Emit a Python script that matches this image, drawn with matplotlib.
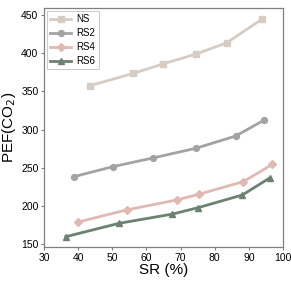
import matplotlib.pyplot as plt

plt.rcParams['font.family'] = ['Liberation Sans', 'DejaVu Sans']

# series
ns_x = [43.5, 56.2, 64.9, 74.4, 83.5, 93.9]
ns_y = [357.5, 373.5, 386.0, 398.5, 413.5, 444.5]
rs2_x = [38.8, 50.1, 62.0, 74.4, 86.1, 94.5]
rs2_y = [238.5, 251.5, 263.0, 275.5, 291.5, 312.5]
rs4_x = [39.9, 54.2, 68.9, 75.4, 88.4, 96.9]
rs4_y = [179.0, 195.0, 208.0, 215.5, 232.0, 254.5]
rs6_x = [36.4, 52.0, 67.6, 75.2, 88.1, 96.2]
rs6_y = [160.0, 177.5, 189.5, 198.0, 214.5, 237.0]

series = [
    ("NS", ns_x, ns_y, "#d6ccc4", "s"),
    ("RS2", rs2_x, rs2_y, "#a3a3a3", "o"),
    ("RS4", rs4_x, rs4_y, "#e0bab2", "D"),
    ("RS6", rs6_x, rs6_y, "#6c8271", "^"),
]

fig = plt.figure(figsize=(2.91, 2.91), dpi=100)
ax = fig.add_axes([44 / 291, 44 / 291, 239 / 291, 239 / 291])

for name, xs, ys, c, m in series:
    ax.plot(xs, ys, color=c, marker=m, lw=2.0, ms=4.2, label=name)

ax.set_xlim(30, 100)
ax.set_ylim(146.5, 459)
ax.set_xticks([30, 40, 50, 60, 70, 80, 90, 100])
ax.set_yticks([150, 200, 250, 300, 350, 400, 450])
ax.tick_params(labelsize=7.5, length=2.5, width=0.8, color="#808080", pad=1.5)
for s in ax.spines.values():
    s.set_color("#808080")
    s.set_linewidth(0.9)

ax.set_xlabel("SR (%)", fontsize=11, labelpad=0)
ax.set_ylabel("PEF(CO$_2$)", fontsize=11, labelpad=2)

leg = ax.legend(loc="upper left", fontsize=7, frameon=True, fancybox=False,
                handlelength=2.1, borderpad=0.35, labelspacing=0.4,
                handletextpad=0.6, borderaxespad=0.3)
leg.get_frame().set_edgecolor("#b0b0b0")
leg.get_frame().set_linewidth(0.6)

fig.savefig("out.png", dpi=100)
